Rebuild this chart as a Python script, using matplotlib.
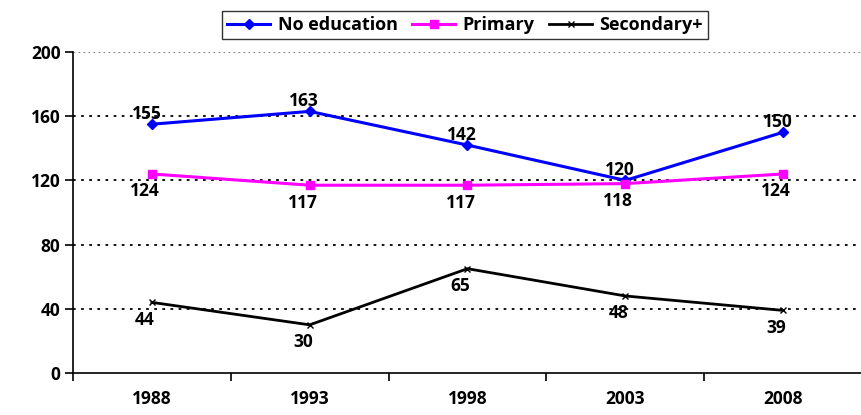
import matplotlib.pyplot as plt
import numpy as np

years = ["1988", "1993", "1998", "2003", "2008"]
no_education = [155, 163, 142, 120, 150]
primary = [124, 117, 117, 118, 124]
secondary = [44, 30, 65, 48, 39]

plt.rcParams["font.family"] = ["Open Sans", "DejaVu Sans"]
plt.rcParams["font.weight"] = "bold"

fig = plt.figure(figsize=(8.62, 4.15), dpi=100)
ax = fig.add_axes([73 / 862, 1 - 373 / 415, 1 - 73 / 862, (373 - 52) / 415])

x = np.arange(len(years))
ax.plot(x, no_education, color="#0000FF", lw=2.2, marker="D", ms=5, label="No education", zorder=3)
ax.plot(x, primary, color="#FF00FF", lw=2.2, marker="s", ms=5.5, label="Primary", zorder=3)
ax.plot(x, secondary, color="black", lw=2.0, marker="x", ms=4.5, mew=1.0, label="Secondary+", zorder=3)

fs = 12.5
for xi, v in zip(x, no_education):
    ax.annotate(str(v), (xi, v), xytext=(-4, 1), textcoords="offset points",
                ha="center", va="bottom", fontsize=fs, fontweight="bold")
for xi, v in zip(x, primary):
    ax.annotate(str(v), (xi, v), xytext=(-5, -6), textcoords="offset points",
                ha="center", va="top", fontsize=fs, fontweight="bold")
for xi, v in zip(x, secondary):
    ax.annotate(str(v), (xi, v), xytext=(-5, -6), textcoords="offset points",
                ha="center", va="top", fontsize=fs, fontweight="bold")

ax.set_xlim(-0.5, len(years) - 0.5)
ax.set_ylim(0, 200)
ax.set_yticks(np.arange(0, 201, 40))
ax.set_xticks(x)
ax.set_xticklabels(years)
ax.set_xticks(np.arange(-0.5, len(years), 1.0), minor=True)
ax.tick_params(axis="x", which="major", length=0, pad=12, labelsize=fs)
ax.tick_params(axis="x", which="minor", length=6, width=1.2, direction="out")
ax.tick_params(axis="y", length=6, width=1.2, direction="out", labelsize=fs, pad=3)
for lbl in ax.get_xticklabels() + ax.get_yticklabels():
    lbl.set_fontweight("bold")

for yv in [40, 80, 120, 160]:
    ax.axhline(yv, color="black", lw=1.3, ls=(0, (1.5, 3)), zorder=1)
ax.axhline(200, color="#808080", lw=0.8, ls=(0, (1.5, 3)), zorder=1)

for s in ["top", "right"]:
    ax.spines[s].set_visible(False)
ax.spines["left"].set_linewidth(1.2)
ax.spines["bottom"].set_linewidth(1.2)

leg = ax.legend(loc="center", ncol=3, frameon=True, fancybox=False,
                edgecolor="black", fontsize=13, handlelength=2.4,
                columnspacing=0.8, handletextpad=0.4, borderpad=0.3)
leg.set_bbox_to_anchor((465 / 862, 1 - 25 / 415), transform=fig.transFigure)
leg.get_frame().set_linewidth(1.0)
for t in leg.get_texts():
    t.set_fontweight("bold")

fig.savefig("out.png", dpi=100)
